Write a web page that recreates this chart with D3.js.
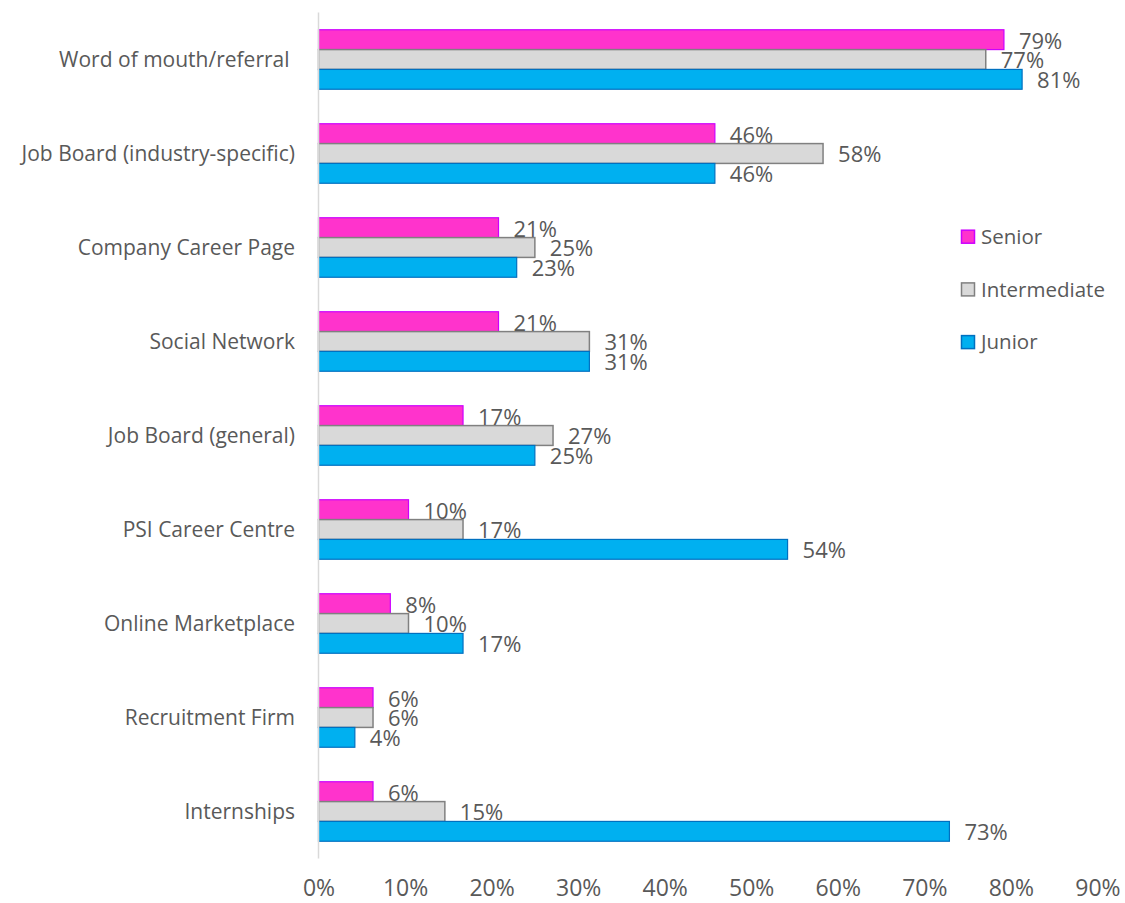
<!DOCTYPE html>
<html>
<head>
<meta charset="utf-8">
<script src="https://cdn.jsdelivr.net/npm/d3@7"></script>
<style>
  body { margin: 0; background: #fff; }
  text { font-family: "Open Sans", "Noto Sans", sans-serif; fill: #595959; }
</style>
</head>
<body>
<div id="viz"></div>
<script>
"use strict";

var categories = [
  "Word of mouth/referral ",
  "Job Board (industry-specific)",
  "Company Career Page",
  "Social Network",
  "Job Board (general)",
  "PSI Career Centre",
  "Online Marketplace",
  "Recruitment Firm",
  "Internships"
];
var seriesNames = ["Senior", "Intermediate", "Junior"];
var senior       = [79.2, 45.8, 20.8, 20.8, 16.7, 10.4, 8.3, 6.3, 6.3];
var intermediate = [77.1, 58.3, 25.0, 31.3, 27.1, 16.7, 10.4, 6.3, 14.6];
var junior       = [81.3, 45.8, 22.9, 31.3, 25.0, 54.2, 16.7, 4.2, 72.9];
var xTicks = [0, 10, 20, 30, 40, 50, 60, 70, 80, 90];

var fills   = ["#ff33cc", "#d9d9d9", "#00b0f0"];
var strokes = ["#cc00ff", "#808080", "#0070c0"];

var width = 1125, height = 903;

var svg = d3.select("#viz")
  .append("svg")
  .attr("width", width)
  .attr("height", height);

var x = d3.scaleLinear().domain([0, 90]).range([318.5, 1097.4]);

var y = d3.scaleBand()
  .domain(categories)
  .range([12.5, 858.5])
  .paddingInner(0.367)
  .paddingOuter(0.1835);

var ySub = d3.scaleBand()
  .domain(seriesNames)
  .range([0, y.bandwidth()]);

var rows = categories.map(function(c, i) {
  return { cat: c, values: [senior[i], intermediate[i], junior[i]] };
});

var fmt = function(v) { return d3.format(".0%")(v / 100); };

// bars
var groups = svg.append("g").selectAll("g")
  .data(rows)
  .enter()
  .append("g")
  .attr("transform", function(d) { return "translate(0," + y(d.cat) + ")"; });

groups.selectAll("rect")
  .data(function(d) { return d.values; })
  .enter()
  .append("rect")
  .attr("x", x(0))
  .attr("y", function(d, i) { return ySub(seriesNames[i]); })
  .attr("width", function(d) { return x(d) - x(0); })
  .attr("height", ySub.bandwidth())
  .attr("fill", function(d, i) { return fills[i]; })
  .attr("stroke", function(d, i) { return strokes[i]; })
  .attr("stroke-width", function(d, i) { return i == 1 ? 1.5 : 1.2; });

groups.selectAll("text")
  .data(function(d) { return d.values; })
  .enter()
  .append("text")
  .attr("x", function(d) { return x(d) + 15; })
  .attr("y", function(d, i) { return ySub(seriesNames[i]) + ySub.bandwidth() / 2 + 1; })
  .attr("dy", "0.36em")
  .attr("font-size", "22px")
  .text(fmt);

// vertical axis line
svg.append("line")
  .attr("x1", x(0)).attr("x2", x(0))
  .attr("y1", 12.5).attr("y2", 858.5)
  .attr("stroke", "#d9d9d9")
  .attr("stroke-width", 1.5);

// category labels
svg.append("g").selectAll("text")
  .data(categories)
  .enter()
  .append("text")
  .attr("x", 295)
  .attr("y", function(d) { return y(d) + y.bandwidth() / 2; })
  .attr("dy", "0.36em")
  .attr("text-anchor", "end")
  .attr("font-size", "21px")
  .style("white-space", "pre")
  .text(function(d) { return d; });

// x axis labels
var xAxis = d3.axisBottom(x)
  .tickValues(xTicks)
  .tickSize(0)
  .tickPadding(0)
  .tickFormat(function(d) { return d + "%"; });

var axisG = svg.append("g")
  .attr("transform", "translate(0,880)")
  .call(xAxis);
axisG.select(".domain").remove();
axisG.selectAll("text")
  .attr("font-size", "23px")
  .attr("font-family", null)
  .attr("fill", "#595959")
  .attr("dy", "0.71em");

// legend
var legend = svg.append("g").selectAll("g")
  .data(seriesNames)
  .enter()
  .append("g")
  .attr("transform", function(d, i) { return "translate(961," + (236.7 + i * 52.7) + ")"; });

legend.append("rect")
  .attr("x", 0.5).attr("y", -6.5)
  .attr("width", 13).attr("height", 13)
  .attr("fill", function(d, i) { return fills[i]; })
  .attr("stroke", function(d, i) { return strokes[i]; })
  .attr("stroke-width", 1.5);

legend.append("text")
  .attr("x", 20)
  .attr("y", 0)
  .attr("dy", "0.36em")
  .attr("font-size", "20.5px")
  .text(function(d) { return d; });
</script>
</body>
</html>
